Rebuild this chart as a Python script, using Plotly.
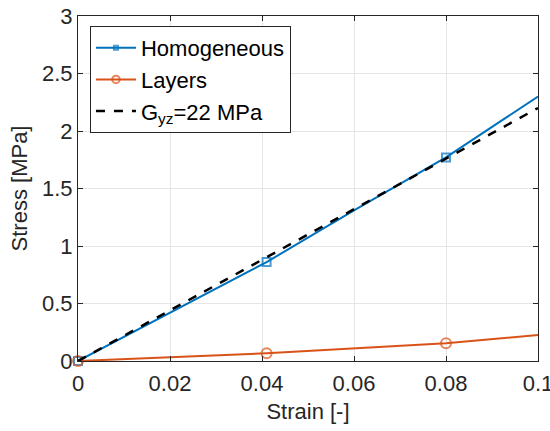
import plotly.graph_objects as go

strain_h = [0, 0.02, 0.041, 0.06, 0.08, 0.1]
stress_h = [0, 0.42, 0.86, 1.31, 1.77, 2.30]
marker_h = [8, 0, 8, 0, 8, 0]

strain_l = [0, 0.041, 0.08, 0.1]
stress_l = [0, 0.067, 0.154, 0.226]
marker_l = [10, 10, 10, 0]

strain_g = [0, 0.1]
stress_g = [0, 2.2]

blue = "#0072BD"
orange = "#D95319"
font_fam = "Liberation Sans, Arial"

fig = go.Figure()
fig.add_trace(go.Scatter(x=strain_h, y=stress_h, mode="lines+markers", name="Homogeneous",
                         line=dict(color=blue, width=2), cliponaxis=False,
                         marker=dict(symbol="square-open", size=marker_h, color=blue, line=dict(width=2))))
fig.add_trace(go.Scatter(x=strain_l, y=stress_l, mode="lines+markers", name="Layers",
                         line=dict(color=orange, width=2), cliponaxis=False,
                         marker=dict(symbol="circle-open", size=marker_l, color=orange, line=dict(width=2))))
fig.add_trace(go.Scatter(x=strain_g, y=stress_g, mode="lines", name="G<sub>yz</sub>=22 MPa",
                         line=dict(color="black", width=2.5, dash="dash")))

axis_common = dict(showgrid=True, gridcolor="#e5e5e5", gridwidth=1, zeroline=False,
                   showline=True, linecolor="#262626", linewidth=1, mirror="ticks",
                   ticks="inside", ticklen=5, tickcolor="#262626", automargin=False,
                   ticklabeloverflow="allow",
                   tickfont=dict(family=font_fam, size=22, color="#262626"))

fig.update_xaxes(range=[0, 0.1], tickvals=[0, 0.02, 0.04, 0.06, 0.08, 0.1],
                 ticktext=["0", "0.02", "0.04", "0.06", "0.08", "0.1"],
                 ticklabelstandoff=3,
                 title=dict(text="Strain [-]", font=dict(family=font_fam, size=22, color="#262626"), standoff=8),
                 **axis_common)
fig.update_yaxes(range=[0, 3], tickvals=[0, 0.5, 1, 1.5, 2, 2.5, 3],
                 ticktext=["0", "0.5", "1", "1.5", "2", "2.5", "3"],
                 title=dict(text="Stress [MPa]", font=dict(family=font_fam, size=22, color="#262626"), standoff=8),
                 **axis_common)

fig.update_layout(
    width=550, height=431,
    margin=dict(l=78, r=12, t=16, b=70),
    plot_bgcolor="white", paper_bgcolor="white",
    showlegend=True,
    legend=dict(x=0.026, y=0.971, xanchor="left", yanchor="top",
                bgcolor="white", bordercolor="#262626", borderwidth=1,
                font=dict(family=font_fam, size=22, color="black"),
                tracegroupgap=0, itemwidth=40),
)

fig.write_html("out.html")
